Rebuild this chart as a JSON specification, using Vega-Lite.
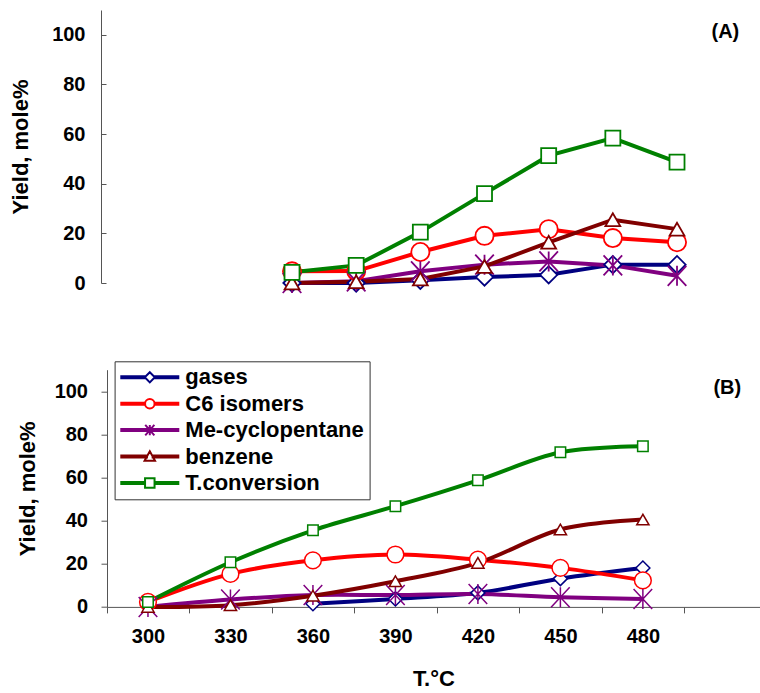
{
  "$schema": "https://vega.github.io/schema/vega-lite/v6.json",
  "background": "white",
  "padding": {"left": 9, "top": 10, "right": 0, "bottom": 0},
  "bounds": "flush",
  "spacing": 86.7,
  "config": {
    "view": {"stroke": null},
    "font": "Liberation Sans",
    "axis": {"grid": false, "domainColor": "#555", "tickColor": "#555", "labelColor": "black", "titleColor": "black", "labelFont": "Liberation Sans", "labelFontWeight": "bold", "labelFontSize": 20, "titleFont": "Liberation Sans", "titleFontWeight": "bold", "titleFontSize": 22, "labelOverlap": false, "labelFlush": false},
    "point": {"filled": true, "fill": "white", "opacity": 1}
  },
  "datasets": {
    "a": [
      {"series": "gases", "T": 300, "y": 0}, {"series": "gases", "T": 330, "y": 0}, {"series": "gases", "T": 360, "y": 1.1}, {"series": "gases", "T": 390, "y": 2.4}, {"series": "gases", "T": 420, "y": 3.3}, {"series": "gases", "T": 450, "y": 7.4}, {"series": "gases", "T": 480, "y": 7.4},
      {"series": "C6 isomers", "T": 300, "y": 4.7}, {"series": "C6 isomers", "T": 330, "y": 4.8}, {"series": "C6 isomers", "T": 360, "y": 12.5}, {"series": "C6 isomers", "T": 390, "y": 19}, {"series": "C6 isomers", "T": 420, "y": 21.7}, {"series": "C6 isomers", "T": 450, "y": 18.1}, {"series": "C6 isomers", "T": 480, "y": 16.4},
      {"series": "Me-cyclopentane", "T": 300, "y": 0}, {"series": "Me-cyclopentane", "T": 330, "y": 0.7}, {"series": "Me-cyclopentane", "T": 360, "y": 4.7}, {"series": "Me-cyclopentane", "T": 390, "y": 7.4}, {"series": "Me-cyclopentane", "T": 420, "y": 8.7}, {"series": "Me-cyclopentane", "T": 450, "y": 7.1}, {"series": "Me-cyclopentane", "T": 480, "y": 2.9},
      {"series": "benzene", "T": 300, "y": 0}, {"series": "benzene", "T": 330, "y": 0.5}, {"series": "benzene", "T": 360, "y": 1.6}, {"series": "benzene", "T": 390, "y": 6.7}, {"series": "benzene", "T": 420, "y": 16.4}, {"series": "benzene", "T": 450, "y": 25.5}, {"series": "benzene", "T": 480, "y": 21.7},
      {"series": "T.conversion", "T": 300, "y": 4.3}, {"series": "T.conversion", "T": 330, "y": 7.1}, {"series": "T.conversion", "T": 360, "y": 20.5}, {"series": "T.conversion", "T": 390, "y": 36}, {"series": "T.conversion", "T": 420, "y": 51.3}, {"series": "T.conversion", "T": 450, "y": 58.4}, {"series": "T.conversion", "T": 480, "y": 48.7}
    ],
    "b": [
      {"series": "gases", "T": 360, "y": 1.5}, {"series": "gases", "T": 390, "y": 3.7}, {"series": "gases", "T": 420, "y": 6.5}, {"series": "gases", "T": 450, "y": 13.1}, {"series": "gases", "T": 480, "y": 18},
      {"series": "C6 isomers", "T": 300, "y": 2.3}, {"series": "C6 isomers", "T": 330, "y": 15.3}, {"series": "C6 isomers", "T": 360, "y": 21.6}, {"series": "C6 isomers", "T": 390, "y": 24.3}, {"series": "C6 isomers", "T": 420, "y": 21.9}, {"series": "C6 isomers", "T": 450, "y": 18.1}, {"series": "C6 isomers", "T": 480, "y": 12.3},
      {"series": "Me-cyclopentane", "T": 300, "y": 0}, {"series": "Me-cyclopentane", "T": 330, "y": 3.4}, {"series": "Me-cyclopentane", "T": 360, "y": 5.5}, {"series": "Me-cyclopentane", "T": 390, "y": 5.5}, {"series": "Me-cyclopentane", "T": 420, "y": 6.0}, {"series": "Me-cyclopentane", "T": 450, "y": 4.5}, {"series": "Me-cyclopentane", "T": 480, "y": 3.7},
      {"series": "benzene", "T": 300, "y": 0}, {"series": "benzene", "T": 330, "y": 0.8}, {"series": "benzene", "T": 360, "y": 5.2}, {"series": "benzene", "T": 390, "y": 11.9}, {"series": "benzene", "T": 420, "y": 20.4}, {"series": "benzene", "T": 450, "y": 35.9}, {"series": "benzene", "T": 480, "y": 40.5},
      {"series": "T.conversion", "T": 300, "y": 2.3}, {"series": "T.conversion", "T": 330, "y": 20.7}, {"series": "T.conversion", "T": 360, "y": 35.5}, {"series": "T.conversion", "T": 390, "y": 46.7}, {"series": "T.conversion", "T": 420, "y": 58.7}, {"series": "T.conversion", "T": 450, "y": 71.7}, {"series": "T.conversion", "T": 480, "y": 74.5}
    ],
    "alabel": [{"label": "(A)", "T": 502.6, "y": 101}],
    "blabel": [{"label": "(B)", "T": 510.7, "y": 101.7}]
  },
  "vconcat": [
    {
      "width": 653,
      "height": 273,
      "encoding": {
        "x": {"field": "T", "type": "quantitative", "scale": {"domain": [213.5, 518.8], "nice": false, "zero": false}, "axis": null},
        "y": {"field": "y", "type": "quantitative", "scale": {"domain": [0, 110], "nice": false}, "axis": {"values": [0, 20, 40, 60, 80, 100], "offset": 6, "tickSize": -5, "labelPadding": 21, "title": "Yield, mole%", "titlePadding": 19}}
      },
      "layer": [
        {
          "data": {"name": "a"},
          "mark": {"type": "line", "strokeWidth": 4},
          "encoding": {
            "stroke": {"field": "series", "type": "nominal", "scale": {"domain": ["gases", "C6 isomers", "Me-cyclopentane", "benzene", "T.conversion"], "range": ["#000080", "#FF0000", "#800080", "#800000", "#008000"]}, "legend": null}
          }
        },
        {"data": {"name": "a"}, "transform": [{"filter": "datum.series==='gases'"}], "mark": {"type": "point", "shape": "diamond", "size": 300, "stroke": "#000080", "strokeWidth": 1.8}},
        {"data": {"name": "a"}, "transform": [{"filter": "datum.series==='C6 isomers'"}], "mark": {"type": "point", "shape": "circle", "size": 330, "stroke": "#FF0000", "strokeWidth": 1.8}},
        {"data": {"name": "a"}, "transform": [{"filter": "datum.series==='Me-cyclopentane'"}], "mark": {"type": "point", "shape": "M0,-1L0,1M-0.93,-1L0.93,1M-0.93,1L0.93,-1", "size": 400, "stroke": "#800080", "strokeWidth": 1.8}},
        {"data": {"name": "a"}, "transform": [{"filter": "datum.series==='benzene'"}], "mark": {"type": "point", "shape": "triangle-up", "size": 220, "stroke": "#800000", "strokeWidth": 1.8}},
        {"data": {"name": "a"}, "transform": [{"filter": "datum.series==='T.conversion'"}], "mark": {"type": "point", "shape": "square", "size": 225, "stroke": "#008000", "strokeWidth": 1.8}},
        {
          "data": {"name": "alabel"},
          "mark": {"type": "text", "font": "Liberation Sans", "fontWeight": "bold", "fontSize": 20, "align": "center", "baseline": "middle", "color": "black"},
          "encoding": {"text": {"field": "label"}}
        }
      ]
    },
    {
      "width": 653,
      "height": 237.2,
      "encoding": {
        "x": {"field": "T", "type": "quantitative", "scale": {"domain": [285.1, 522.6], "nice": false, "zero": false}, "axis": {"values": [300, 330, 360, 390, 420, 450, 480, 510], "tickOffset": -41.2, "labelOffset": 41.2, "labelExpr": "datum.value > 490 ? '' : datum.label", "tickSize": 6, "labelPadding": 14, "title": "T.°C", "titlePadding": 22}},
        "y": {"field": "y", "type": "quantitative", "scale": {"domain": [0, 110], "nice": false}, "axis": {"values": [0, 20, 40, 60, 80, 100], "tickSize": 6, "labelPadding": 13.5, "title": "Yield, mole%", "titlePadding": 15}}
      },
      "layer": [
        {
          "data": {"name": "b"},
          "mark": {"type": "line", "strokeWidth": 4, "interpolate": "cardinal"},
          "encoding": {
            "stroke": {"field": "series", "type": "nominal", "scale": {"domain": ["gases", "C6 isomers", "Me-cyclopentane", "benzene", "T.conversion"], "range": ["#000080", "#FF0000", "#800080", "#800000", "#008000"]},
              "legend": {
                "orient": "none", "legendX": 7.6, "legendY": -8.4, "title": null, "padding": 5, "rowPadding": 4.4,
                "strokeColor": "#333", "fillColor": "white", "symbolSize": 361, "symbolStrokeWidth": 2, "symbolOffset": 19.2, "labelOffset": 24.5,
                "labelFont": "Liberation Sans", "labelFontSize": 22, "labelFontWeight": "bold", "labelColor": "black", "labelLimit": 400,
                "encode": {"symbols": {"update": {
                  "fill": {"value": "white"},
                  "opacity": {"value": 1},
                  "strokeWidth": {"value": 2},
                  "shape": {"signal": "datum.value==='gases'?'M-3,-0.105L-0.53,-0.105L-0.53,0.105L-3,0.105ZM0.53,-0.105L3,-0.105L3,0.105L0.53,0.105ZM0,-0.53L0.53,0L0,0.53L-0.53,0Z':datum.value==='C6 isomers'?'M-3,-0.105L-0.5,-0.105L-0.5,0.105L-3,0.105ZM0.5,-0.105L3,-0.105L3,0.105L0.5,0.105ZM0.5,0A0.5,0.5,0,1,1,-0.5,0A0.5,0.5,0,1,1,0.5,0Z':datum.value==='Me-cyclopentane'?'M-3,-0.105L3,-0.105L3,0.105L-3,0.105ZM0,-0.55L0,0.55M-0.48,-0.55L0.48,0.55M-0.48,0.55L0.48,-0.55':datum.value==='benzene'?'M-3,-0.105L-0.3,-0.105L-0.3,0.105L-3,0.105ZM0.3,-0.105L3,-0.105L3,0.105L0.3,0.105ZM0,-0.55L0.55,0.45L-0.55,0.45Z':'M-3,-0.105L-0.5,-0.105L-0.5,0.105L-3,0.105ZM0.5,-0.105L3,-0.105L3,0.105L0.5,0.105ZM-0.5,-0.5L0.5,-0.5L0.5,0.5L-0.5,0.5Z'"}
                }}}
              }
            }
          }
        },
        {"data": {"name": "b"}, "transform": [{"filter": "datum.series==='gases'"}], "mark": {"type": "point", "shape": "diamond", "size": 196, "stroke": "#000080", "strokeWidth": 1.5}},
        {"data": {"name": "b"}, "transform": [{"filter": "datum.series==='C6 isomers'"}], "mark": {"type": "point", "shape": "circle", "size": 280, "stroke": "#FF0000", "strokeWidth": 1.5}},
        {"data": {"name": "b"}, "transform": [{"filter": "datum.series==='Me-cyclopentane'"}], "mark": {"type": "point", "shape": "M0,-1L0,1M-0.93,-1L0.93,1M-0.93,1L0.93,-1", "size": 400, "stroke": "#800080", "strokeWidth": 1.5}},
        {"data": {"name": "b"}, "transform": [{"filter": "datum.series==='benzene'"}], "mark": {"type": "point", "shape": "triangle-up", "size": 150, "stroke": "#800000", "strokeWidth": 1.5}},
        {"data": {"name": "b"}, "transform": [{"filter": "datum.series==='T.conversion'"}], "mark": {"type": "point", "shape": "square", "size": 110, "stroke": "#008000", "strokeWidth": 1.5}},
        {
          "data": {"name": "blabel"},
          "mark": {"type": "text", "font": "Liberation Sans", "fontWeight": "bold", "fontSize": 20, "align": "center", "baseline": "middle", "color": "black"},
          "encoding": {"text": {"field": "label"}}
        }
      ]
    }
  ],
  "resolve": {
    "scale": {"x": "independent", "y": "independent", "stroke": "independent"},
    "legend": {"stroke": "independent"}
  }
}
